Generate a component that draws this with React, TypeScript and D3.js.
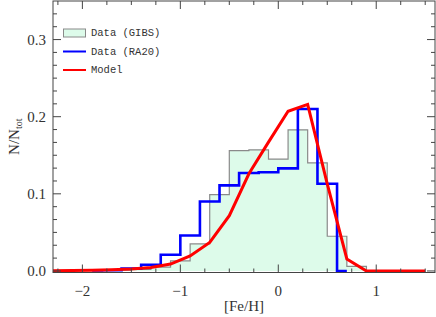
import React from 'react';
import * as d3 from 'd3';

// GIBS histogram (bin centres, fraction)
const gibsFeH = [-1.6, -1.4, -1.2, -1.0, -0.8, -0.6, -0.4, -0.2, 0.0, 0.2, 0.4, 0.6, 0.8, 1.0];
const gibsFrac = [0.001, 0.002, 0.005, 0.013, 0.035, 0.099, 0.156, 0.157, 0.145, 0.183, 0.140, 0.045, 0.006, 0.0];

// RA20 histogram
const ra20FeH = [-1.9, -1.7, -1.5, -1.3, -1.1, -0.9, -0.7, -0.5, -0.3, -0.1, 0.1, 0.3, 0.5, 0.7];
const ra20Frac = [0.0005, 0.001, 0.003, 0.008, 0.021, 0.046, 0.090, 0.111, 0.127, 0.128, 0.133, 0.210, 0.113, 0.0];

// model curve
const modelFeH = [-2.3, -2.1, -1.9, -1.7, -1.5, -1.3, -1.1, -0.9, -0.7, -0.5, -0.3, -0.1, 0.1, 0.3, 0.5, 0.7, 0.9, 1.1, 1.3, 1.5];
const modelFrac = [0.0003, 0.0006, 0.001, 0.0016, 0.0026, 0.0045, 0.009, 0.0195, 0.037, 0.0717, 0.126, 0.167, 0.207, 0.216, 0.113, 0.0155, 0.0, 0.0, 0.0, 0.0];

const xMajor = [-2, -1, 0, 1];
const yMajor = [0, 0.1, 0.2, 0.3];

const legendItems = [
  { label: 'Data (GIBS)', kind: 'box' },
  { label: 'Data (RA20)', kind: 'blue' },
  { label: 'Model', kind: 'red' },
];

const W = 436;
const H = 317;
const left = 53, right = 435, top = 1, bottom = 272.5;

export default function App() {
  const x = d3.scaleLinear().domain([-2.3, 1.6]).range([left, right]);
  const y = d3.scaleLinear().domain([-0.002, 0.35]).range([bottom, top]);

  const xMinor = d3.range(-2.25, 1.6, 0.25).filter(v => Math.abs(v - Math.round(v)) > 1e-6);
  const yMinor = d3.range(1, 21).map(i => i / 60).filter(v => Math.abs(v * 10 - Math.round(v * 10)) > 1e-6);

  const step = d3.line<[number, number]>().x(d => x(d[0])).y(d => y(d[1])).curve(d3.curveStep);
  const area = d3.area<[number, number]>().x(d => x(d[0])).y0(y(0)).y1(d => y(d[1])).curve(d3.curveStep);
  const lin = d3.line<[number, number]>().x(d => x(d[0])).y(d => y(d[1]));

  const gibs = gibsFeH.map((v, i) => [v, gibsFrac[i]] as [number, number]);
  const ra20 = ra20FeH.map((v, i) => [v, ra20Frac[i]] as [number, number]);
  const model = modelFeH.map((v, i) => [v, modelFrac[i]] as [number, number]);

  const fmtY = (v: number) => v.toFixed(1);
  const fmtX = (v: number) => (v < 0 ? '\u2212' + Math.abs(v) : String(v));
  const axisCol = '#444';
  const textCol = '#333';

  return (
    <svg width={W} height={H} style={{ position: 'absolute', left: 0, top: 0, background: '#fff' }}>
      <defs>
        <clipPath id="plot">
          <rect x={left} y={top} width={right - left} height={bottom - top + 2} />
        </clipPath>
      </defs>

      {/* data */}
      <g clipPath="url(#plot)">
        <path d={area(gibs) || ''} fill="#ddfbea" stroke="none" />
        <path d={step(gibs) || ''} fill="none" stroke="#8a8a8a" strokeWidth={1.2} />
        <path d={step(ra20) || ''} fill="none" stroke="#0000ff" strokeWidth={2.6} />
        <path d={lin(model) || ''} fill="none" stroke="#ff0000" strokeWidth={3} strokeLinejoin="miter" />
      </g>

      {/* frame */}
      <rect x={left} y={top} width={right - left} height={bottom - top} fill="none" stroke={axisCol} strokeWidth={1} />

      {/* x ticks */}
      {xMajor.map(v => (
        <g key={'xm' + v}>
          <line x1={x(v)} x2={x(v)} y1={bottom} y2={bottom - 8} stroke={axisCol} />
          <line x1={x(v)} x2={x(v)} y1={top} y2={top + 8} stroke={axisCol} />
          <text x={x(v)} y={291} textAnchor="middle" dominantBaseline="central"
            fontFamily="Liberation Serif, serif" fontSize={15} fill={textCol}>{fmtX(v)}</text>
        </g>
      ))}
      {xMinor.map(v => (
        <g key={'xn' + v}>
          <line x1={x(v)} x2={x(v)} y1={bottom} y2={bottom - 4} stroke={axisCol} />
          <line x1={x(v)} x2={x(v)} y1={top} y2={top + 4} stroke={axisCol} />
        </g>
      ))}

      {/* y ticks */}
      {yMajor.map(v => (
        <g key={'ym' + v}>
          <line x1={left} x2={left + 8} y1={y(v)} y2={y(v)} stroke={axisCol} />
          <line x1={right} x2={right - 8} y1={y(v)} y2={y(v)} stroke={axisCol} />
          <text x={46} y={y(v)} textAnchor="end" dominantBaseline="central"
            fontFamily="Liberation Serif, serif" fontSize={15} fill={textCol}>{fmtY(v)}</text>
        </g>
      ))}
      {yMinor.map(v => (
        <g key={'yn' + v}>
          <line x1={left} x2={left + 4} y1={y(v)} y2={y(v)} stroke={axisCol} />
          <line x1={right} x2={right - 4} y1={y(v)} y2={y(v)} stroke={axisCol} />
        </g>
      ))}

      {/* axis titles */}
      <text x={(left + right) / 2} y={306} textAnchor="middle" dominantBaseline="central"
        fontFamily="Liberation Serif, serif" fontSize={15} fill={textCol}>[Fe/H]</text>
      <text transform={`translate(14,${(top + bottom) / 2}) rotate(-90)`} textAnchor="middle" dominantBaseline="central"
        fontFamily="Liberation Serif, serif" fontSize={15} fill={textCol}>
        N/N<tspan fontSize={10} dy={4}>tot</tspan>
      </text>

      {/* legend */}
      {legendItems.map((it, i) => {
        const ly = 33 + i * 18.5;
        return (
          <g key={it.label}>
            {it.kind === 'box' && <rect x={63.5} y={ly - 4} width={22} height={8} fill="#ddfbea" stroke="#8a8a8a" strokeWidth={1} />}
            {it.kind === 'blue' && <line x1={63} x2={86} y1={ly} y2={ly} stroke="#0000ff" strokeWidth={2} />}
            {it.kind === 'red' && <line x1={63} x2={86} y1={ly} y2={ly} stroke="#ff0000" strokeWidth={2} />}
            <text x={91} y={ly} dominantBaseline="central" fontFamily="Liberation Mono, monospace" fontSize={10.5} fill={textCol}>{it.label}</text>
          </g>
        );
      })}
    </svg>
  );
}
